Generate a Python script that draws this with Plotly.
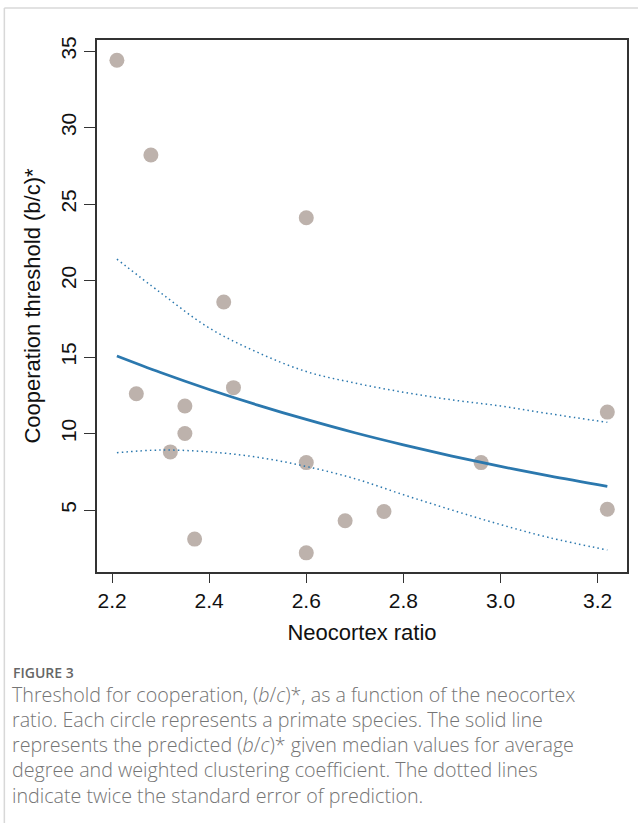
import plotly.graph_objects as go

# Data points (neocortex ratio, cooperation threshold)
species_x = [2.21, 2.28, 2.60, 2.43, 2.25, 2.35, 2.45, 2.35, 2.32, 2.60, 2.37, 2.60, 2.68, 2.76, 2.96, 3.22, 3.22]
species_y = [34.4, 28.2, 24.1, 18.6, 12.6, 11.8, 13.0, 10.0, 8.8, 8.1, 3.1, 2.2, 4.3, 4.9, 8.1, 11.4, 5.05]

# Prediction curve and +/- 2 SE bands
curve_x = [2.21, 2.30, 2.40, 2.50, 2.60, 2.70, 2.80, 2.90, 3.00, 3.10, 3.22]
fit_y = [15.07, 13.99, 12.88, 11.86, 10.92, 10.05, 9.26, 8.53, 7.85, 7.23, 6.55]
upper_y = [21.4, 19.2, 16.9, 15.3, 14.05, 13.3, 12.7, 12.2, 11.8, 11.3, 10.73]
lower_y = [8.75, 8.92, 8.8, 8.45, 7.85, 7.05, 6.0, 5.0, 4.05, 3.2, 2.39]

x_ticks = [2.2, 2.4, 2.6, 2.8, 3.0, 3.2]
x_tick_text = ["2.2", "2.4", "2.6", "2.8", "3.0", "3.2"]
y_ticks = [5, 10, 15, 20, 25, 30, 35]

caption_title = "FIGURE 3"
caption_lines = [
    "Threshold for cooperation, (<i>b</i>/<i>c</i>)*, as a function of the neocortex",
    "ratio. Each circle represents a primate species. The solid line",
    "represents the predicted (<i>b</i>/<i>c</i>)* given median values for average",
    "degree and weighted clustering coefficient. The dotted lines",
    "indicate twice the standard error of prediction.",
]

W, H = 638, 823
L, R, T, B = 97, 9, 40, 251
pw, ph = W - L - R, H - T - B

def px_x(px):
    return (px - L) / pw

def px_y(py):
    return (H - B - py) / ph

blue = "#2B78AE"
fig = go.Figure()
fig.add_trace(go.Scatter(x=species_x, y=species_y, mode="markers",
                         marker=dict(size=15, color="#BDB2AC", line=dict(width=0)),
                         showlegend=False))
fig.add_trace(go.Scatter(x=curve_x, y=upper_y, mode="lines", line_shape="spline",
                         line=dict(color=blue, width=1.5, dash="1.5px,3.2px"), showlegend=False))
fig.add_trace(go.Scatter(x=curve_x, y=lower_y, mode="lines", line_shape="spline",
                         line=dict(color=blue, width=1.5, dash="1.5px,3.2px"), showlegend=False))
fig.add_trace(go.Scatter(x=curve_x, y=fit_y, mode="lines", line_shape="spline",
                         line=dict(color=blue, width=2.8), showlegend=False))

tick_font = dict(family="Liberation Sans, Arial, sans-serif", size=21, color="#111")
title_font = dict(family="Liberation Sans, Arial, sans-serif", size=22, color="#111")
fig.update_xaxes(range=[2.169, 3.2605], tickvals=x_ticks, ticktext=x_tick_text,
                 showgrid=False, zeroline=False, showline=True, mirror=True,
                 linecolor="#333", linewidth=1.5, ticks="outside", ticklen=9,
                 tickcolor="#333", tickwidth=1.2, tickfont=tick_font,
                 title=dict(text="Neocortex ratio", font=title_font, standoff=14))
fig.update_yaxes(range=[0.95, 35.72], tickvals=y_ticks,
                 showgrid=False, zeroline=False, showline=True, mirror=True,
                 linecolor="#333", linewidth=1.5, ticks="outside", ticklen=11,
                 tickcolor="#333", tickwidth=1.2, tickfont=tick_font, tickangle=-90,
                 title=dict(text="Cooperation threshold (b/c)*", font=title_font, standoff=10))

annotations = [dict(text=caption_title, x=px_x(11), y=px_y(672), xref="paper", yref="paper",
                    xanchor="left", yanchor="middle", showarrow=False,
                    font=dict(family="Open Sans, sans-serif", size=14, color="#666", weight=600))]
for i, line in enumerate(caption_lines):
    annotations.append(dict(text=line, x=px_x(10), y=px_y(694 + i * 25.3), xref="paper", yref="paper",
                            xanchor="left", yanchor="middle", showarrow=False,
                            font=dict(family="Open Sans, sans-serif", size=19.7, color="#757575",
                                      weight=300)))

shapes = [
    dict(type="line", xref="paper", yref="paper", x0=px_x(4), x1=px_x(640), y0=px_y(8), y1=px_y(8),
         line=dict(color="#D8D8D8", width=1.5)),
    dict(type="line", xref="paper", yref="paper", x0=px_x(4), x1=px_x(4), y0=px_y(8), y1=px_y(830),
         line=dict(color="#D8D8D8", width=1.5)),
]

fig.update_layout(width=W, height=H, margin=dict(l=L, r=R, t=T, b=B),
                  paper_bgcolor="white", plot_bgcolor="white",
                  annotations=annotations, shapes=shapes)
fig.write_html("out.html", config={"displayModeBar": False},
               post_script="document.body.style.margin='0';document.body.style.overflow='hidden';")
